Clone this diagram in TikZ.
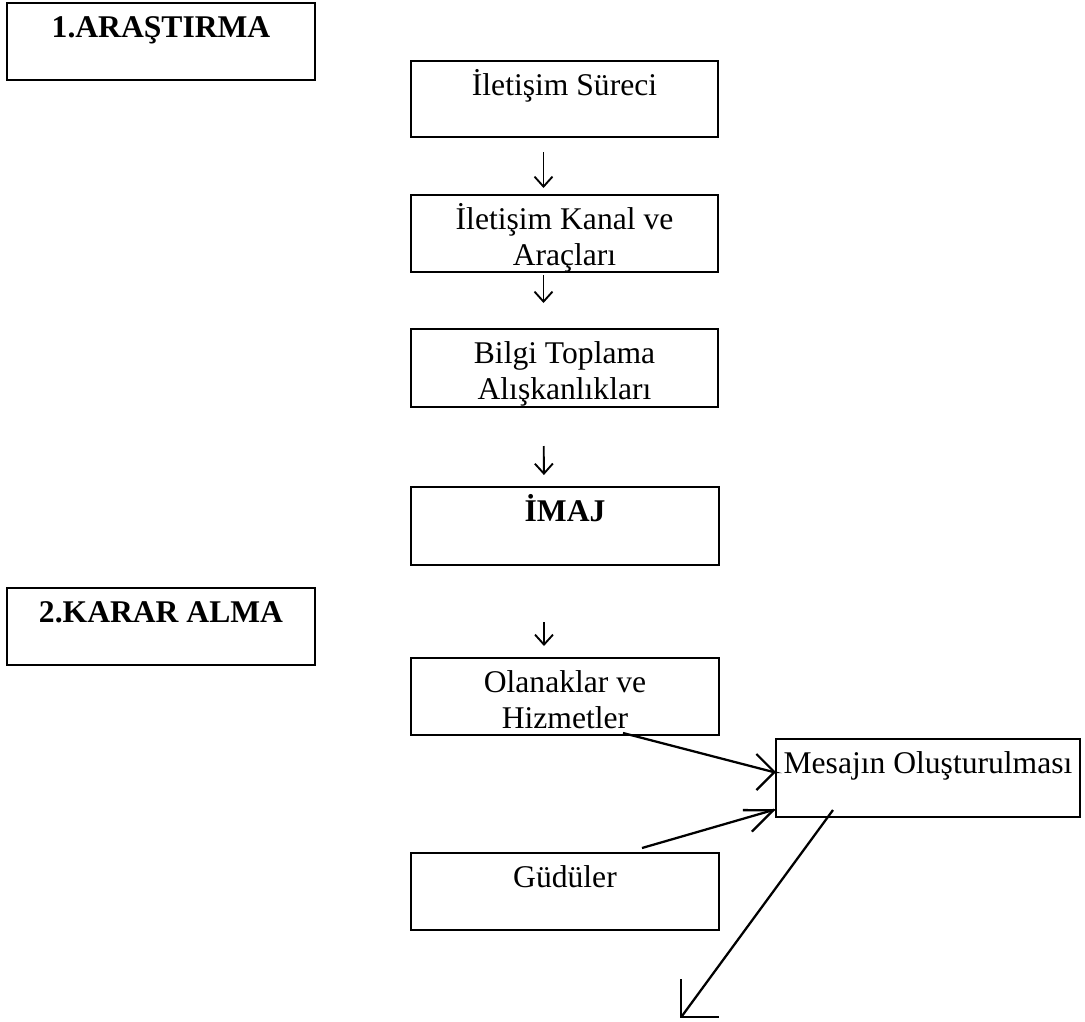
\documentclass[tikz,border=0pt]{standalone}
\usepackage{fontspec}
\setmainfont{Liberation Serif}
\usetikzlibrary{arrows.meta,calc}
\newlength\px \setlength\px{0.75pt}
\newcommand\bxtxt[3]{\parbox[c][#2\px][t]{#1\px}{\centering\rule{0pt}{34\px}#3\par}}
\begin{document}
\begin{tikzpicture}[x=0.75pt,y=-0.75pt,
  box/.style={draw, line width=2.1pt, inner sep=0pt, outer sep=0pt, anchor=north west,
    font=\fontsize{23.7pt}{27pt}\selectfont},
  glyph/.style={line width=1.4pt, -{Straight Barb[length=7.5pt,width=13.5pt]}},
  link/.style={line width=1.7pt, -{Straight Barb[length=13.5pt,width=27pt]}},
  narrowlink/.style={line width=1.7pt, -{Straight Barb[length=21pt,width=17.5pt]}},
  biglink/.style={line width=1.7pt, -{Straight Barb[length=20pt,width=40pt]}}]
\useasboundingbox (0,0) rectangle (1085,1021);
\fill[white] (0,0) rectangle (1085,1021);
% headers
\node[box] (h1) at (7,3) {\bxtxt{308}{77}{\textbf{1.ARAŞTIRMA}}};
\node[box] (h2) at (7,588) {\bxtxt{308}{77}{\textbf{2.KARAR ALMA}}};
% column
\node[box] (a) at (411,61) {\bxtxt{307}{76}{İletişim Süreci}};
\node[box] (b) at (411,195) {\bxtxt{307}{77}{İletişim Kanal ve\\Araçları}};
\node[box] (c) at (411,329) {\bxtxt{307}{78}{Bilgi Toplama\\Alışkanlıkları}};
\node[box] (d) at (411,487) {\bxtxt{308}{78}{\textbf{İMAJ}}};
\node[box] (e) at (411,658) {\bxtxt{308}{77}{Olanaklar ve\\Hizmetler}};
\node[box] (f) at (776,739) {\bxtxt{304}{78}{Mesajın Oluşturulması}};
\node[box] (g) at (411,853) {\bxtxt{308}{77}{Güdüler}};
\coordinate (end) at (680,1018);
% down arrows
\draw[glyph, shorten <=11.25pt, shorten >=5.25pt] ([xshift=-15.75pt]a.south) -- ([xshift=-15.75pt]b.north);
\draw[glyph, shorten <=2.25pt, shorten >=19.5pt] ([xshift=-15.75pt]b.south) -- ([xshift=-15.75pt]c.north);
\draw[glyph, shorten <=29.25pt, shorten >=9pt] ([xshift=-15.75pt]c.south) -- ([xshift=-15.75pt]d.north);
\draw[glyph, shorten <=42.75pt, shorten >=9pt] ([xshift=-15.75pt]d.south) -- ([xshift=-15.75pt]e.north);
% oblique arrows
\draw[link] ([xshift=43.5pt,yshift=1.5pt]e.south) -- ([xshift=-2pt,yshift=4.5pt]f.west) -- ([yshift=4.5pt]f.west);
\draw[narrowlink] ([xshift=57.75pt,yshift=3.75pt]g.north) -- ($([yshift=-23.25pt]f.west)+(-1.85,0.77)$) -- ([yshift=-23.25pt]f.west);
\draw[biglink] ([xshift=42.75pt,yshift=5.25pt]f.south west) -- ($(end)+(2,-2)$) -- (end);
\end{tikzpicture}
\end{document}
